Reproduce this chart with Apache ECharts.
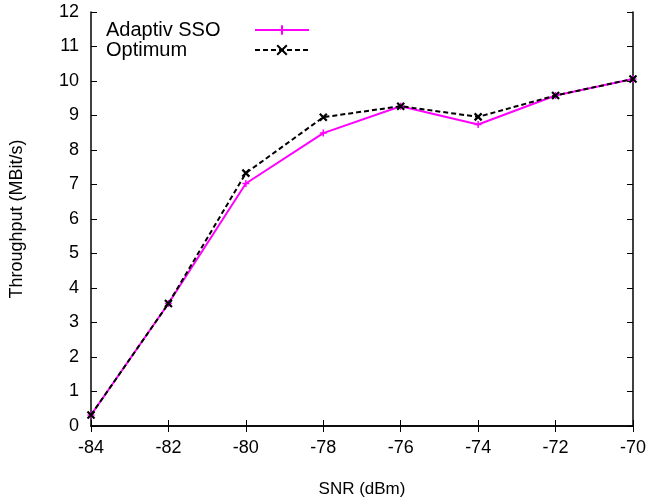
<!DOCTYPE html>
<html><head><meta charset="utf-8">
<script src="https://cdn.jsdelivr.net/npm/echarts@6/dist/echarts.min.js"></script>
<style>html,body{margin:0;padding:0;background:#fff}#c{width:649px;height:503px}</style>
</head><body><div id="c"></div>
<script>
var snr = [-84, -82, -80, -78, -76, -74, -72, -70];
var adaptiv = [0.32, 3.55, 7.03, 8.49, 9.27, 8.74, 9.58, 10.06];
var optimum = [0.32, 3.55, 7.33, 8.95, 9.27, 8.96, 9.58, 10.06];
var xTicks = [-84, -82, -80, -78, -76, -74, -72, -70];
var yTicks = [0,1,2,3,4,5,6,7,8,9,10,11,12];

var plus = 'path://M5,0L5,10M0,5L10,5';
var cross = 'path://M0,0L10,10M10,0L0,10';
var font = 'Liberation Sans';
function pairs(ys){ return snr.map(function(x,i){return [x, ys[i]];}); }
var axisLine = {show:true, lineStyle:{color:'#000', width:1.5}};
var chart = echarts.init(document.getElementById('c'));
chart.setOption({
  animation:false,
  grid:{left:89, right:13, top:12, bottom:75},
  legend:{
    orient:'vertical', left:101, top:15, align:'right',
    itemWidth:54, itemHeight:12, itemGap:0,
    formatter:function(n){ return '{a|' + n + '}'; },
    textStyle:{fontFamily:font, fontSize:20, color:'#000',
      rich:{a:{fontFamily:font, fontSize:20, lineHeight:19, height:19, color:'#000', width:144, align:'left'}}},
    data:['Adaptiv SSO','Optimum']
  },
  xAxis:[{
    type:'value', min:-84, max:-70, interval:2,
    name:'SNR (dBm)', nameLocation:'middle', nameGap:55,
    nameTextStyle:{fontFamily:font, fontSize:17, color:'#000'},
    axisLine:axisLine,
    axisTick:{show:true, inside:true, length:6, lineStyle:{color:'#000'}},
    axisLabel:{fontFamily:font, fontSize:18, color:'#000', margin:13},
    splitLine:{show:false}
  },{
    type:'value', position:'top', min:-84, max:-70, interval:2,
    axisLine:axisLine,
    axisTick:{show:true, inside:true, length:6, lineStyle:{color:'#000'}},
    axisLabel:{show:false}, splitLine:{show:false}
  }],
  yAxis:[{
    type:'value', min:0, max:12, interval:1,
    name:'Throughput (MBit/s)', nameLocation:'middle', nameGap:65, nameRotate:90,
    nameTextStyle:{fontFamily:font, fontSize:18, color:'#000'},
    axisLine:axisLine,
    axisTick:{show:true, inside:true, length:6, lineStyle:{color:'#000'}},
    axisLabel:{fontFamily:font, fontSize:18, color:'#000', margin:12},
    splitLine:{show:false}
  },{
    type:'value', position:'right', min:0, max:12, interval:1,
    axisLine:axisLine,
    axisTick:{show:true, inside:true, length:6, lineStyle:{color:'#000'}},
    axisLabel:{show:false}, splitLine:{show:false}
  }],
  series:[{
    name:'Adaptiv SSO', type:'line', data:pairs(adaptiv),
    symbol:plus, symbolSize:7,
    lineStyle:{color:'#ff00ff', width:2},
    itemStyle:{color:'#ff00ff', borderColor:'#ff00ff', borderWidth:1.5},
    z:3
  },{
    name:'Optimum', type:'line', data:pairs(optimum),
    symbol:cross, symbolSize:7,
    lineStyle:{color:'#000', width:2, type:[5,3]},
    itemStyle:{color:'#000', borderColor:'#000', borderWidth:2.2},
    z:4
  }]
});
</script></body></html>
